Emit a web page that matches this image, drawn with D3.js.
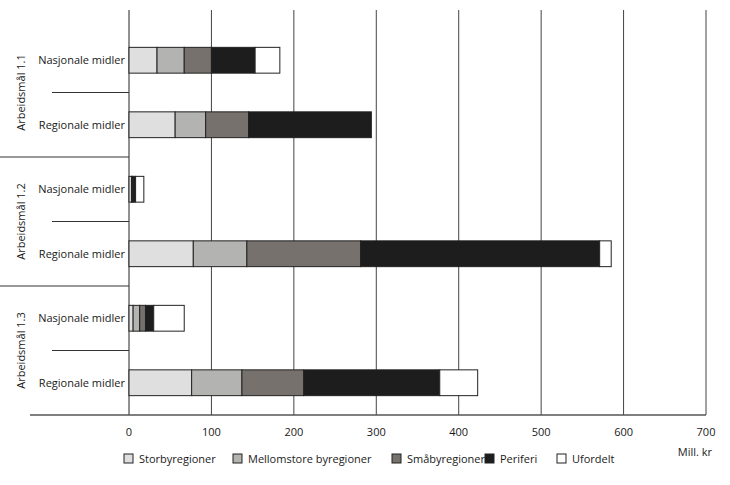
<!DOCTYPE html>
<html><head><meta charset="utf-8">
<script src="https://cdn.jsdelivr.net/npm/d3@7"></script>
<style>body{margin:0;background:#fff}text{font-family:"Open Sans",sans-serif;font-size:11px;fill:#1a1a1a}</style>
</head><body><svg id="c" width="730" height="485"></svg>
<script>
// data (Mill. kr)
var groups = ["Arbeidsmål 1.1", "Arbeidsmål 1.2", "Arbeidsmål 1.3"];
var rows = ["Nasjonale midler", "Regionale midler", "Nasjonale midler", "Regionale midler", "Nasjonale midler", "Regionale midler"];
var series = ["Storbyregioner", "Mellomstore byregioner", "Småbyregioner", "Periferi", "Ufordelt"];
var colors = ["#dfdfdf", "#b3b3b1", "#76716d", "#1d1d1d", "#ffffff"];
var storby = [34, 56, 3, 78, 5, 76];
var mellom = [33, 37, 1, 65, 8, 61];
var smaby = [33, 52, 1, 138, 7, 75];
var periferi = [53, 149, 3, 290, 10, 165];
var ufordelt = [30, 0, 10, 14, 37, 46];
var ticks = [0, 100, 200, 300, 400, 500, 600, 700];

var values = [storby, mellom, smaby, periferi, ufordelt];
var svg = d3.select("#c");
var x = d3.scaleLinear().domain([0, 700]).range([129, 706]);
var y = d3.scaleBand().domain(d3.range(rows.length)).range([28, 415]).paddingInner(0.6).paddingOuter(0.3);
var step = y.step();

// gridlines
svg.selectAll(".grid").data(ticks.slice(1)).enter().append("line")
  .attr("x1", d => x(d)).attr("x2", d => x(d)).attr("y1", 10).attr("y2", 415)
  .attr("stroke", "#444").attr("stroke-width", 1);
svg.append("line").attr("x1", x(0)).attr("x2", x(0)).attr("y1", 10).attr("y2", 415).attr("stroke", "#222");

// separators between rows
d3.range(1, rows.length).forEach(function(i) {
  var yy = 28 + i * (387 / rows.length);
  svg.append("line").attr("x1", i % 2 ? 52 : 0).attr("x2", x(0)).attr("y1", yy).attr("y2", yy)
    .attr("stroke", "#333");
});
svg.append("line").attr("x1", 30).attr("x2", 706).attr("y1", 415).attr("y2", 415).attr("stroke", "#555").attr("stroke-width", 1.5);

// stacked bars
var stackData = rows.map((r, i) => {
  var o = {i: i};
  series.forEach((s, k) => o[s] = values[k][i]);
  return o;
});
var stack = d3.stack().keys(series)(stackData);
stack.forEach(function(layer, k) {
  svg.selectAll(".b" + k).data(layer.filter(d => d[1] > d[0])).enter().append("rect")
    .attr("x", d => x(d[0])).attr("width", d => x(d[1]) - x(d[0]))
    .attr("y", (d, j) => y(d.data.i)).attr("height", y.bandwidth())
    .attr("fill", colors[k]).attr("stroke", "#222").attr("stroke-width", 1);
});

// row labels
svg.selectAll(".rl").data(rows).enter().append("text")
  .attr("x", 125).attr("y", (d, i) => y(i) + y.bandwidth() / 2 + 4)
  .attr("text-anchor", "end").text(d => d);

// group labels
groups.forEach(function(g, i) {
  var cy = 28 + (i * 2 + 1) * (387 / rows.length);
  svg.append("text").attr("transform", "translate(25," + cy + ") rotate(-90)")
    .attr("text-anchor", "middle").text(g);
});

// x tick labels
svg.selectAll(".tl").data(ticks).enter().append("text")
  .attr("x", d => x(d)).attr("y", 436).attr("text-anchor", "middle").text(d => d);
svg.append("text").attr("x", 712).attr("y", 456).attr("text-anchor", "end").text("Mill. kr");

// legend
var lx = [124, 233, 392, 485, 557];
series.forEach(function(s, k) {
  svg.append("rect").attr("x", lx[k]).attr("y", 454).attr("width", 9).attr("height", 9)
    .attr("fill", colors[k]).attr("stroke", "#222");
  svg.append("text").attr("x", lx[k] + 15).attr("y", 463).text(s);
});
</script></body></html>
